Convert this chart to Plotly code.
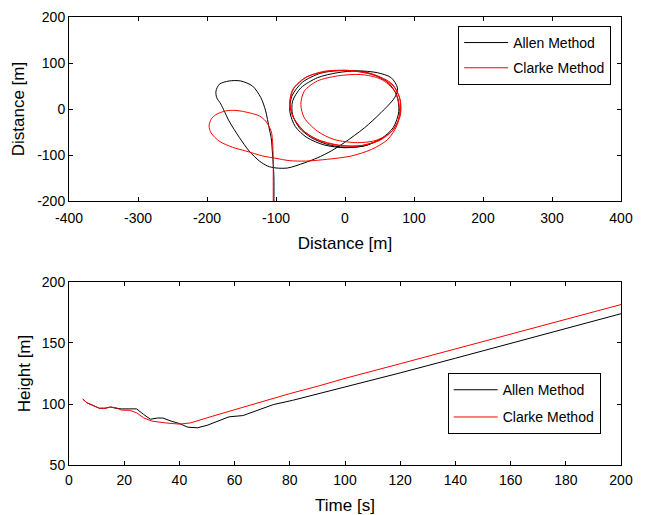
import plotly.graph_objects as go

# ---- Top plot: trajectory (Distance vs Distance) ----
allen_x = [-103, -103, -104, -105, -107, -110, -115, -122, -134, -151, -168, -182, -187, -186, -180,
           -168, -153, -139, -124, -112, -100, -83, -59, -40, -20, -1, 28, 52, 72, 76, 67, 47, 18,
           -11, -40, -64, -76, -76, -66, -49, -25, -1, 28, 52, 70, 78, 75, 62, 35, 0, -35, -62, -77,
           -80, -72, -55, -30, 0, 30, 55]
allen_y = [-200, -150, -120, -98, -62, -41, -4, 25, 50, 61, 61, 54, 39, 25, 11,
           -26, -62, -91, -113, -124, -128, -128, -117, -106, -91, -73, -41, -8, 25, 46, 68, 79, 83,
           79, 68, 46, 17, -12, -41, -62, -77, -83, -80, -65, -40, -5, 30, 58, 78, 84, 78, 58, 28,
           -5, -38, -62, -78, -84, -79, -63]

clarke_x = [-104, -104, -104, -105, -107, -115, -124, -139, -158, -173, -187, -194, -197, -194, -182,
            -163, -144, -119, -100, -81, -57, -25, 9, 38, 62, 76, 79, 72, 52, 23, -11, -40, -59, -64,
            -59, -40, -16, 18, 45, 68, 80, 80, 70, 45, 10, -25, -55, -74, -80, -76, -62, -40, -10,
            20, 50, 70, 80, 79, 68, 42, 5, -30, -58, -76, -80, -74, -58, -35, -5, 25, 50]
clarke_y = [-200, -150, -110, -70, -48, -26, -15, -8, -3, -4, -12, -22, -37, -52, -70,
            -83, -91, -102, -107, -112, -113, -109, -102, -88, -66, -33, 3, 39, 65, 75, 72, 61, 39, 10,
            -19, -48, -66, -73, -68, -48, -15, 20, 50, 72, 83, 82, 70, 45, 15, -15, -45, -66, -78,
            -80, -68, -45, -10, 25, 55, 75, 84, 82, 68, 42, 10, -20, -50, -70, -80, -79, -68]

# ---- Bottom plot: Height vs Time ----
allen_t = [5, 6.5, 9, 11, 13, 15, 17, 19, 22, 24.5, 27, 29.5, 32, 34, 37, 40, 43, 46.5, 50,
           54, 58, 63, 67, 74, 81, 88, 100, 120, 140, 160, 180, 200]
allen_h = [104, 101, 98.5, 96.5, 96.5, 97.5, 96.5, 96, 96, 96, 91.5, 87.5, 88.5, 88.5, 86, 84,
           81, 80.5, 82.5, 86, 89.5, 90.5, 94, 99.5, 103, 107, 113.5, 125.5, 137.5, 149.5, 161.5, 174]

clarke_t = [5, 6.5, 9, 11, 13, 15, 17, 19, 22, 24.5, 27, 30, 35, 40, 44, 48, 52, 58, 64, 70,
            80, 90, 100, 120, 140, 160, 180, 200]
clarke_h = [104, 101, 98.5, 96.5, 96.5, 97.5, 97, 95, 94.8, 92.8, 88.7, 86, 84.5, 83.5, 84.5,
            87, 90, 94, 98, 102, 108.5, 114.5, 121, 133, 145, 157, 169, 181.5]

x1_ticks = [-400, -300, -200, -100, 0, 100, 200, 300, 400]
y1_ticks = [-200, -100, 0, 100, 200]
x2_ticks = [0, 20, 40, 60, 80, 100, 120, 140, 160, 180, 200]
y2_ticks = [50, 100, 150, 200]

FONT = "Liberation Sans, Arial, sans-serif"
FS = 14

fig = go.Figure()
fig.add_trace(go.Scatter(x=allen_x, y=allen_y, mode="lines", name="Allen Method",
                         line=dict(color="black", width=1, shape="spline", smoothing=0.8),
                         xaxis="x", yaxis="y", legend="legend", legendgroup="a1"))
fig.add_trace(go.Scatter(x=clarke_x, y=clarke_y, mode="lines", name="Clarke Method",
                         line=dict(color="red", width=1, shape="spline", smoothing=0.8),
                         xaxis="x", yaxis="y", legend="legend", legendgroup="c1"))
fig.add_trace(go.Scatter(x=allen_t, y=allen_h, mode="lines", name="Allen Method",
                         line=dict(color="black", width=1),
                         xaxis="x2", yaxis="y2", legend="legend2", legendgroup="a2"))
fig.add_trace(go.Scatter(x=clarke_t, y=clarke_h, mode="lines", name="Clarke Method",
                         line=dict(color="red", width=1),
                         xaxis="x2", yaxis="y2", legend="legend2", legendgroup="c2"))

ax_common = dict(showgrid=False, zeroline=False, showline=True, linecolor="black", linewidth=1,
                 mirror="allticks", ticks="inside", ticklen=4, tickcolor="black",
                 automargin=False, tickmode="array",
                 tickfont=dict(family=FONT, size=FS, color="black"))

def labels(vals):
    return [str(v) for v in vals]

fig.update_layout(
    width=646, height=515,
    margin=dict(l=61, r=33, t=9, b=58),
    paper_bgcolor="white", plot_bgcolor="white",
    font=dict(family=FONT, size=FS, color="black"),
    showlegend=True,
    xaxis=dict(domain=[0, 1], range=[-400, 400], tickvals=x1_ticks, ticktext=labels(x1_ticks),
               anchor="y", ticklabelstandoff=4,
               title=dict(text="Distance [m]", standoff=12), **ax_common),
    yaxis=dict(domain=[0.589, 1], range=[-200, 200], tickvals=y1_ticks, ticktext=labels(y1_ticks),
               anchor="x", title=dict(text="Distance [m]", standoff=8), **ax_common),
    xaxis2=dict(domain=[0, 1], range=[0, 200], tickvals=x2_ticks, ticktext=labels(x2_ticks),
                anchor="y2", ticklabelstandoff=2,
                title=dict(text="Time [s]", standoff=12), **ax_common),
    yaxis2=dict(domain=[0, 0.4085], range=[50, 200], tickvals=y2_ticks, ticktext=labels(y2_ticks),
                anchor="x2", title=dict(text="Height [m]", standoff=6), **ax_common),
    legend=dict(x=0.705, y=0.98, xanchor="left", yanchor="top", bgcolor="white",
                bordercolor="black", borderwidth=1, tracegroupgap=4, itemwidth=44,
                font=dict(family=FONT, size=FS, color="black")),
    legend2=dict(x=0.686, y=0.205, xanchor="left", yanchor="top", bgcolor="white",
                 bordercolor="black", borderwidth=1, tracegroupgap=6, itemwidth=44,
                 font=dict(family=FONT, size=FS, color="black")),
)

fig.write_html("out.html")
